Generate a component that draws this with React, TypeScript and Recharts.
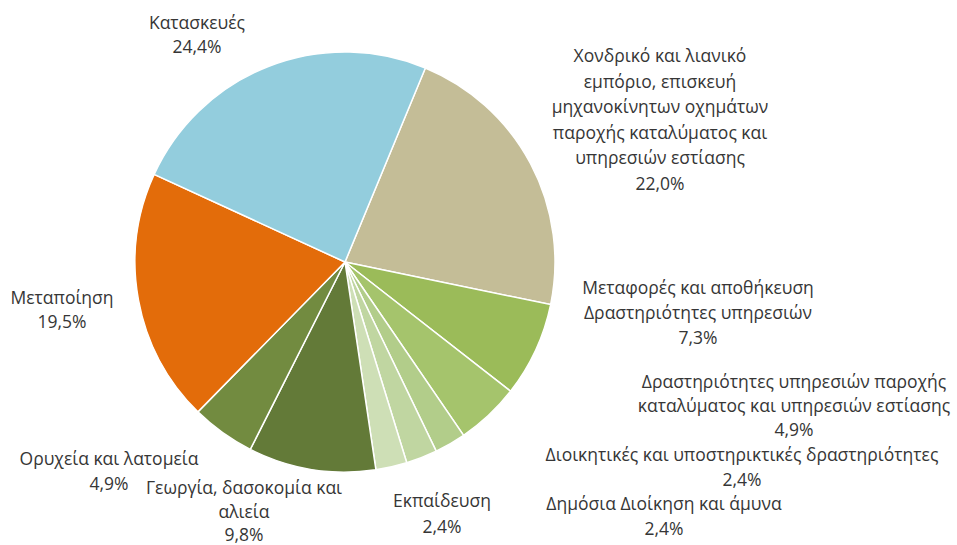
import { PieChart, Pie, Cell } from "recharts";

// sectors, clockwise from the top-right boundary
const sectors = [
  "Χονδρικό και λιανικό εμπόριο",
  "Μεταφορές και αποθήκευση",
  "Δραστηριότητες υπηρεσιών παροχής καταλύματος",
  "Διοικητικές και υποστηρικτικές δραστηριότητες",
  "Δημόσια Διοίκηση και άμυνα",
  "Εκπαίδευση",
  "Γεωργία, δασοκομία και αλιεία",
  "Ορυχεία και λατομεία",
  "Μεταποίηση",
  "Κατασκευές",
];

const shares = [22.0, 7.3, 4.9, 2.4, 2.4, 2.4, 9.8, 4.9, 19.5, 24.4];

const labelLines = [
  ["Χονδρικό και λιανικό", "εμπόριο, επισκευή", "μηχανοκίνητων οχημάτων", "παροχής καταλύματος και", "υπηρεσιών εστίασης"],
  ["Μεταφορές και αποθήκευση", "Δραστηριότητες υπηρεσιών"],
  ["Δραστηριότητες υπηρεσιών παροχής", "καταλύματος και υπηρεσιών εστίασης"],
  ["Διοικητικές και υποστηρικτικές δραστηριότητες"],
  ["Δημόσια Διοίκηση και άμυνα"],
  ["Εκπαίδευση"],
  ["Γεωργία, δασοκομία και", "αλιεία"],
  ["Ορυχεία και λατομεία"],
  ["Μεταποίηση"],
  ["Κατασκευές"],
];

const colors = [
  "#C4BD97",
  "#9BBB59",
  "#A5C46C",
  "#B2CD8A",
  "#C0D6A1",
  "#CEDFB6",
  "#637A38",
  "#728B40",
  "#E36C0A",
  "#93CDDD",
];

// label anchor (text centre x, first line centre y, line step)
const labelPos = [
  [660, 55, 25.6],
  [698, 287, 25],
  [794, 381, 24],
  [742, 454, 24.5],
  [664, 503, 25],
  [442, 500, 26],
  [244, 487, 23.5],
  [109, 458, 24.5],
  [62, 297, 24],
  [197, 22, 24],
];

const data = sectors.map((name, i) => ({ name, value: shares[i] }));

const fmt = (v: number) => v.toFixed(1).replace(".", ",") + "%";

function SliceLabel(props: any) {
  const i = props.index ?? sectors.indexOf(props.name);
  const [x, y, step] = labelPos[i];
  const lines = [...labelLines[i], fmt(shares[i])];
  return (
    <text
      textAnchor="middle"
      fill="#363636"
      style={{ fontFamily: "'Open Sans', sans-serif", fontSize: 17.5 }}
    >
      {lines.map((l, k) => (
        <tspan key={k} x={x} y={y + k * step} dominantBaseline="central">
          {l}
        </tspan>
      ))}
    </text>
  );
}

export default function App() {
  return (
    <div style={{ position: "absolute", left: 0, top: 0, width: 957, height: 545, background: "#fff" }}>
      <PieChart width={957} height={545} margin={{ top: 0, right: 0, bottom: 0, left: 0 }}>
        <Pie
          data={data}
          dataKey="value"
          nameKey="name"
          cx={345}
          cy={262}
          outerRadius={210}
          startAngle={67.5}
          endAngle={67.5 - 360}
          stroke="#fff"
          strokeWidth={1.5}
          label={SliceLabel}
          labelLine={false}
          isAnimationActive={false}
        >
          {data.map((d, i) => (
            <Cell key={d.name} fill={colors[i]} />
          ))}
        </Pie>
      </PieChart>
    </div>
  );
}
